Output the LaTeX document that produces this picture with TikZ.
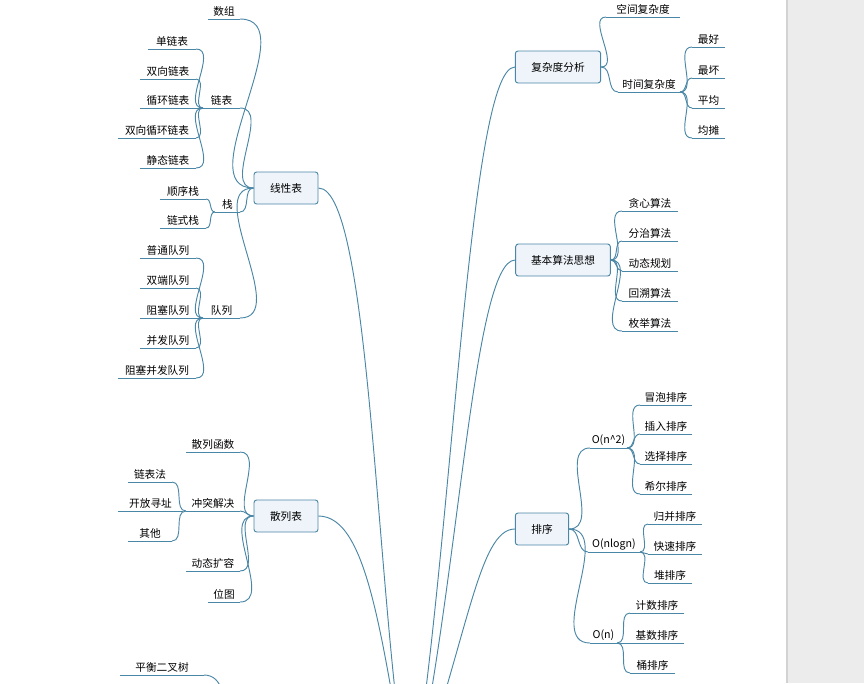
\documentclass[tikz,border=0pt]{standalone}
\usepackage{fontspec}
\setmainfont{Noto Sans CJK SC}
\usetikzlibrary{calc}
\definecolor{edgeblue}{RGB}{74,134,165}
\definecolor{boxfill}{RGB}{238,244,250}
\tikzset{
  edge/.style={draw=edgeblue,line width=0.7pt},
  topic/.style={draw=edgeblue,fill=boxfill,rounded corners=2pt,line width=0.7pt,
    minimum height=24pt,inner sep=2pt,font=\fontsize{8}{10}\selectfont},
  leaf/.style={inner sep=1.5pt,font=\fontsize{8}{10}\selectfont}
}
% leaf: name, left x, right x, underline y, text
\newcommand\leaf[5]{%
  \coordinate (#1-l) at (#2,#4);
  \coordinate (#1-r) at (#3,#4);
  \draw[edge] (#1-l) -- (#1-r);
  \node[leaf,anchor=south] (#1) at ($(#1-l)!0.5!(#1-r)$) {#5};}
\begin{document}
\begin{tikzpicture}[x=0.75pt,y=-0.75pt]
  \useasboundingbox (0,0) rectangle (864,683);
  \clip (0,0) rectangle (864,683);
  \fill[gray!15] (786,0) rectangle (864,683);
  \draw[gray!35,line width=1.5pt] (787,0) -- (787,683);
  \coordinate (root) at (410,800);

  % left side
  \node[topic,minimum width=48pt] (xian) at (286,188) {线性表};
  \leaf{shuzu}{208}{240}{19}{数组}
  \leaf{lianbiao}{203}{240}{108}{链表}
  \leaf{zhan}{215}{240}{212}{栈}
  \leaf{duilie}{203}{240}{318}{队列}
  \leaf{dan}{148}{196}{49}{单链表}
  \leaf{shuang}{140}{196}{79}{双向链表}
  \leaf{xunhuan}{140}{196}{108}{循环链表}
  \leaf{sxh}{118}{196}{138}{双向循环链表}
  \leaf{jingtai}{140}{196}{168}{静态链表}
  \leaf{shunxu}{160}{206}{199}{顺序栈}
  \leaf{lianshi}{160}{206}{228}{链式栈}
  \leaf{putong}{140}{196}{258}{普通队列}
  \leaf{shuangduan}{140}{196}{288}{双端队列}
  \leaf{zuse}{140}{196}{318}{阻塞队列}
  \leaf{bingfa}{140}{196}{348}{并发队列}
  \leaf{zsbf}{118}{196}{378}{阻塞并发队列}
  \foreach \c in {shuzu,lianbiao,zhan,duilie}
    \draw[edge] (xian.west) to[out=180,in=0] (\c-r);
  \foreach \c in {dan,shuang,xunhuan,sxh,jingtai}
    \draw[edge] (lianbiao-l) to[out=180,in=0] (\c-r);
  \foreach \c in {shunxu,lianshi}
    \draw[edge] (zhan-l) to[out=180,in=0] (\c-r);
  \foreach \c in {putong,shuangduan,zuse,bingfa,zsbf}
    \draw[edge] (duilie-l) to[out=180,in=0] (\c-r);

  \node[topic,minimum width=48pt] (sanlie) at (286,516) {散列表};
  \leaf{hanshu}{186}{240}{452}{散列函数}
  \leaf{chongtu}{186}{240}{511}{冲突解决}
  \leaf{kuorong}{186}{240}{571}{动态扩容}
  \leaf{weitu}{208}{240}{602}{位图}
  \leaf{lbf}{128}{172}{482}{链表法}
  \leaf{kfxz}{118}{183}{511}{开放寻址}
  \leaf{qita}{128}{172}{541}{其他}
  \foreach \c in {hanshu,chongtu,kuorong,weitu}
    \draw[edge] (sanlie.west) to[out=180,in=0] (\c-r);
  \foreach \c in {lbf,qita}
    \draw[edge] (chongtu-l) to[out=180,in=0] (\c-r);

  \leaf{phecs}{120}{204}{675}{平衡二叉树}
  \draw[edge] (phecs-r) to[out=0,in=90] (225,720);

  % right side
  \node[topic,minimum width=64pt] (fzd) at (558,67) {复杂度分析};
  \leaf{kongjian}{606}{680}{17}{空间复杂度}
  \leaf{shijian}{618}{680}{92}{时间复杂度}
  \leaf{zuihao}{692}{725}{47}{最好}
  \leaf{zuihuai}{692}{725}{78}{最坏}
  \leaf{pingjun}{692}{725}{108}{平均}
  \leaf{juntan}{692}{725}{138}{均摊}
  \foreach \c in {kongjian,shijian}
    \draw[edge] (fzd.east) to[out=0,in=180] (\c-l);
  \foreach \c in {zuihao,zuihuai,pingjun,juntan}
    \draw[edge] (shijian-r) to[out=0,in=180] (\c-l);

  \node[topic,minimum width=71pt] (jbsf) at (563,260) {基本算法思想};
  \leaf{tanxin}{622}{678}{211}{贪心算法}
  \leaf{fenzhi}{622}{678}{241}{分治算法}
  \leaf{dongtai}{622}{678}{271}{动态规划}
  \leaf{huisu}{622}{678}{301}{回溯算法}
  \leaf{meiju}{622}{678}{331}{枚举算法}
  \foreach \c in {tanxin,fenzhi,dongtai,huisu,meiju}
    \draw[edge] (jbsf.east) to[out=0,in=180] (\c-l);

  \node[topic,minimum width=40pt] (paixu) at (542,529) {排序};
  \leaf{on2}{590}{627}{448}{O(n\^{}2)}
  \leaf{onlogn}{588}{640}{552}{O(nlogn)}
  \leaf{on}{590}{617}{643}{O(n)}
  \leaf{maopao}{640}{692}{405}{冒泡排序}
  \leaf{charu}{640}{692}{434}{插入排序}
  \leaf{xuanze}{640}{692}{464}{选择排序}
  \leaf{xier}{640}{692}{494}{希尔排序}
  \leaf{guibing}{648}{702}{524}{归并排序}
  \leaf{kuaisu}{648}{702}{554}{快速排序}
  \leaf{dui}{648}{692}{583}{堆排序}
  \leaf{jishu}{630}{684}{613}{计数排序}
  \leaf{jishuB}{630}{684}{643}{基数排序}
  \leaf{tong}{630}{675}{673}{桶排序}
  \foreach \c in {on2,onlogn,on}
    \draw[edge] (paixu.east) to[out=0,in=180] (\c-l);
  \foreach \c in {maopao,charu,xuanze,xier}
    \draw[edge] (on2-r) to[out=0,in=180] (\c-l);
  \foreach \c in {guibing,kuaisu,dui}
    \draw[edge] (onlogn-r) to[out=0,in=180] (\c-l);
  \foreach \c in {jishu,jishuB,tong}
    \draw[edge] (on-r) to[out=0,in=180] (\c-l);

  % main branches to the root below
  \draw[edge] (xian.east) .. controls (372,188) and (376,620) .. (root);
  \draw[edge] (sanlie.east) .. controls (368,516) and (382,640) .. (root);
  \draw[edge] (fzd.west) .. controls (468,67) and (452,560) .. (root);
  \draw[edge] (jbsf.west) .. controls (472,260) and (458,600) .. (root);
  \draw[edge] (paixu.west) .. controls (478,529) and (468,640) .. (root);
\end{tikzpicture}
\end{document}
